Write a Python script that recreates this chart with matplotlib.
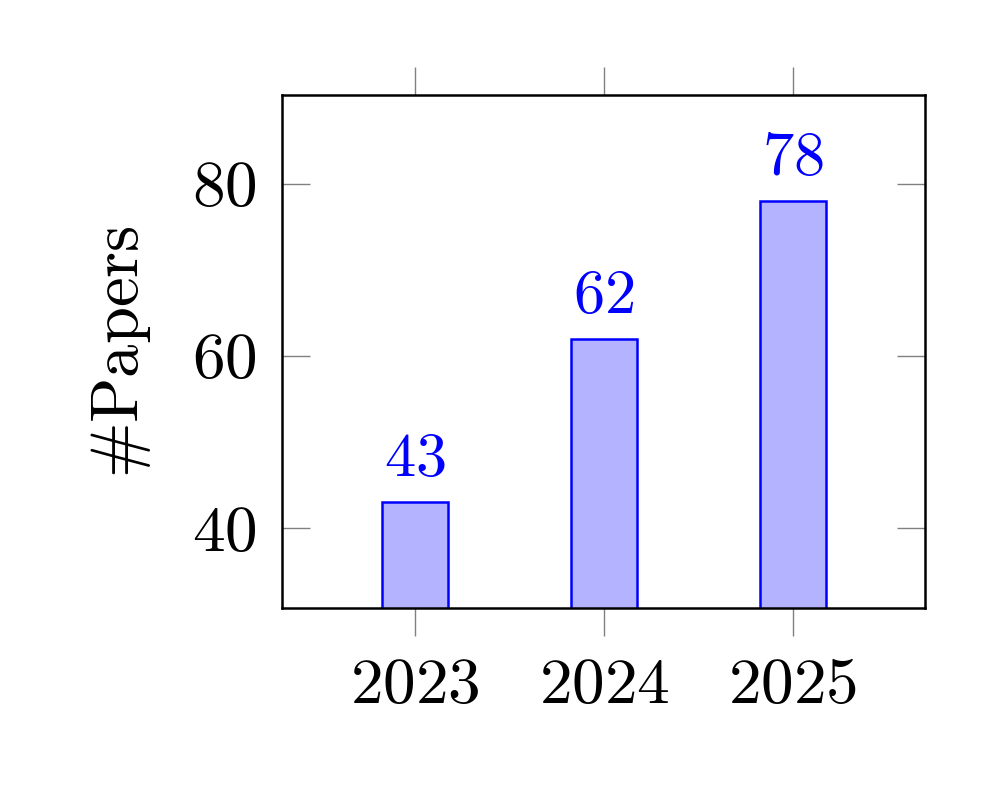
import matplotlib
matplotlib.use('Agg')
import matplotlib.pyplot as plt

years = [2023, 2024, 2025]
papers = [43, 62, 78]
yticks = [40, 60, 80]

plt.rcParams['mathtext.fontset'] = 'cm'
plt.rcParams['font.family'] = 'serif'
plt.rcParams['font.serif'] = ['cmr10']
plt.rcParams['axes.formatter.use_mathtext'] = True

fig = plt.figure(figsize=(9.93, 7.92), dpi=100)
ax = fig.add_axes([282/993, 1-608/792, (925-282)/993, (608-95)/792])

bars = ax.bar(years, papers, width=0.35, color=(0.7, 0.7, 1.0),
              edgecolor='blue', linewidth=1.8, zorder=2)
for x, v in zip(years, papers):
    ax.annotate(r'$%d$' % v, (x, v), xytext=(0, 10), textcoords='offset points',
                ha='center', va='bottom', color='blue', fontsize=45)

ax.set_xlim(2022.296, 2025.698)
ax.set_ylim(30.7, 90.35)
ax.set_xticks(years)
ax.set_xticklabels([r'$%d$' % y for y in years])
ax.set_yticks(yticks)
ax.set_yticklabels([r'$%d$' % y for y in yticks])

ax.tick_params(axis='x', direction='out', top=True, bottom=True, length=20,
               width=1.0, color='#808080', labelsize=47, pad=16)
ax.tick_params(axis='y', direction='in', left=True, right=True, length=20,
               width=1.0, color='#808080', labelsize=47, pad=18)
for s in ax.spines.values():
    s.set_linewidth(1.8)
    s.set_color('black')

ax.set_ylabel(r'$\#\mathrm{Papers}$', fontsize=48, labelpad=28)

fig.savefig('out.png', dpi=100)
